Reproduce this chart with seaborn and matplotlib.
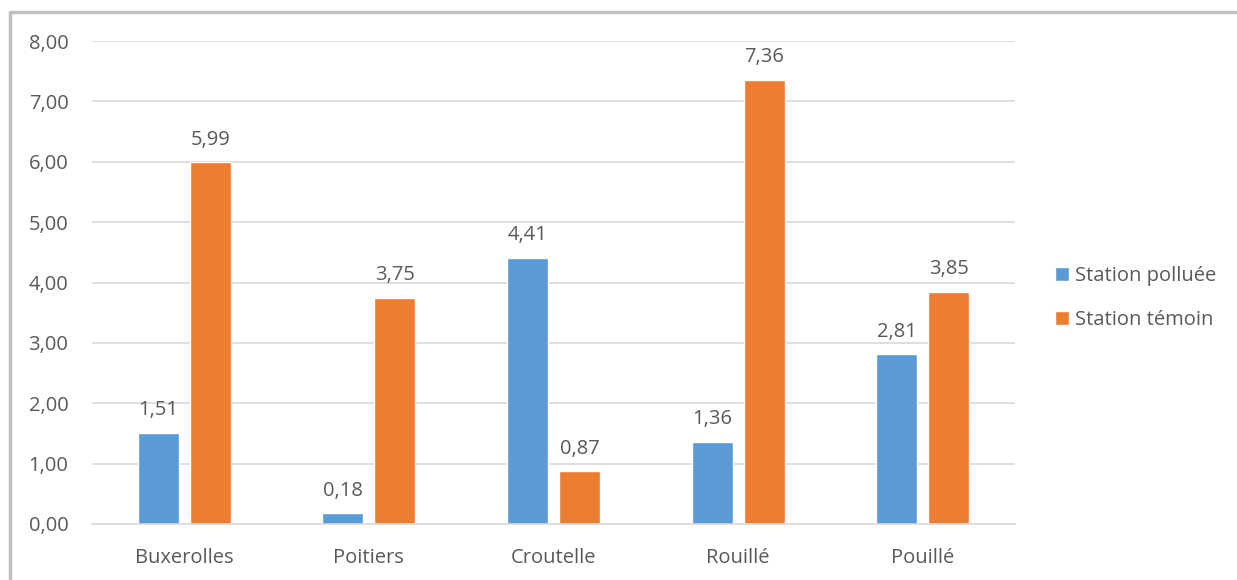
import matplotlib
matplotlib.use("Agg")
import matplotlib.pyplot as plt
from matplotlib.lines import Line2D
import seaborn as sns
import pandas as pd

sites = ["Buxerolles", "Poitiers", "Croutelle", "Rouillé", "Pouillé"]
station_polluee = [1.51, 0.18, 4.41, 1.36, 2.81]
station_temoin = [5.99, 3.75, 0.87, 7.36, 3.85]
series_names = ["Station polluée", "Station témoin"]
y_ticks = [0, 1, 2, 3, 4, 5, 6, 7, 8]

df = pd.DataFrame({
    "site": sites * 2,
    "valeur": station_polluee + station_temoin,
    "serie": [series_names[0]] * len(sites) + [series_names[1]] * len(sites),
})

sns.set_theme(style="white")
plt.rcParams["font.family"] = ["Open Sans", "DejaVu Sans"]

text_color = "#595959"
grid_color = "#d9d9d9"
palette = {series_names[0]: "#5B9BD5", series_names[1]: "#ED7D31"}
fs = 14.5

fig = plt.figure(figsize=(12.37, 5.80), dpi=100)
ax = fig.add_axes([92 / 1237, 1 - 524 / 580, (1015 - 92) / 1237, (524 - 41) / 580])

sns.barplot(data=df, x="site", y="valeur", hue="serie", order=sites,
            hue_order=series_names, palette=palette, width=0.563, gap=0.21,
            saturation=1, ax=ax, legend=True)

ax.set_ylim(0, 8)
ax.set_yticks(y_ticks)
ax.set_yticklabels([f"{v:.2f}".replace(".", ",") for v in y_ticks])
ax.set_xlim(-0.5, len(sites) - 0.5)
ax.set_xlabel("")
ax.set_ylabel("")
ax.yaxis.grid(True, color=grid_color, linewidth=1.2)
ax.set_axisbelow(True)
for side in ["top", "right", "left"]:
    ax.spines[side].set_visible(False)
ax.spines["bottom"].set_color(grid_color)
ax.spines["bottom"].set_linewidth(1.2)
ax.tick_params(axis="both", length=0, labelsize=fs, colors=text_color)
ax.tick_params(axis="y", pad=17)
ax.tick_params(axis="x", pad=17.5)

# value labels above each bar
for container in ax.containers:
    ax.bar_label(container, labels=[f"{v:.2f}".replace(".", ",") for v in container.datavalues],
                 padding=9, fontsize=fs, color=text_color)

leg = ax.legend(loc="center left", bbox_to_anchor=(1.043, 0.468), frameon=False,
                fontsize=fs, handlelength=0.72, handleheight=0.72, borderpad=0,
                borderaxespad=0, handletextpad=0.3, labelspacing=1.2,
                labelcolor=text_color)

# chart frame (left and top edges)
fig.add_artist(Line2D([10 / 1237, 10 / 1237], [0, 1 - 12 / 580], transform=fig.transFigure,
                      color="#bfbfbf", linewidth=2.5))
fig.add_artist(Line2D([10 / 1237, 1], [1 - 12 / 580, 1 - 12 / 580], transform=fig.transFigure,
                      color="#bfbfbf", linewidth=2.5))

fig.savefig("out.png", dpi=100)
